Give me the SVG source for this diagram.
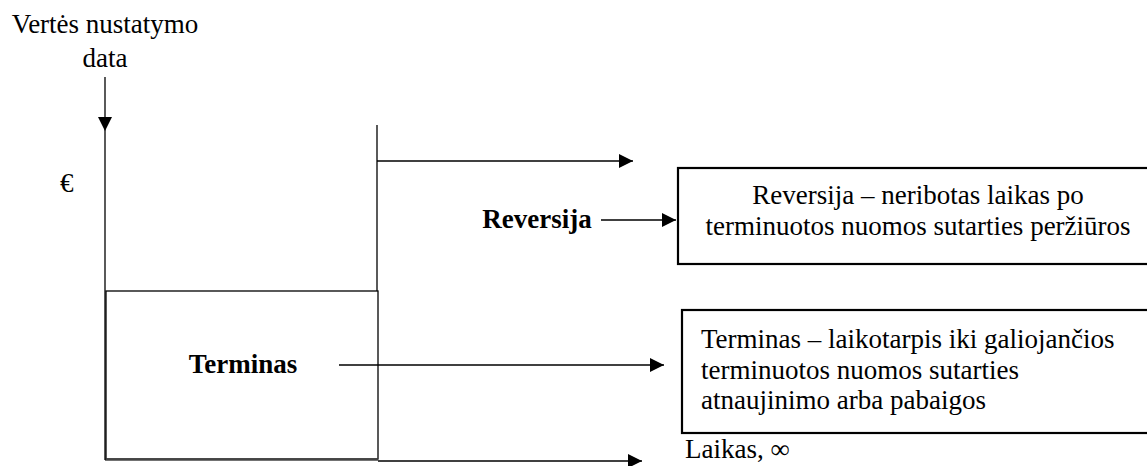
<svg xmlns="http://www.w3.org/2000/svg" width="1147" height="466" viewBox="0 0 1147 466">
<style>
.t{font-family:'Liberation Serif',Tinos,'Times New Roman',Times,'DejaVu Serif',serif;font-size:27px;fill:#000}
.b{font-weight:bold}
.ln{stroke:#000;stroke-width:1.3;fill:none}
.box{stroke:#000;stroke-width:2.2;fill:#fff}
</style>
<defs>
<marker id="ah" markerWidth="14" markerHeight="14" refX="14" refY="7" orient="auto" markerUnits="userSpaceOnUse">
<path d="M0,0 L14,7 L0,14 Z" fill="#000"/>
</marker>
</defs>
<g font-family="Liberation Serif, Times New Roman, DejaVu Serif, serif" font-size="27">
<g id="label-date">
<text class="t" x="105" y="33" text-anchor="middle">Vertės nustatymo</text>
<text class="t" x="105" y="67" text-anchor="middle">data</text>
</g>
<g id="label-euro"><text class="t" x="60" y="192">€</text></g>
<g id="terminas-area">
<rect x="106" y="291" width="272" height="168" class="ln"/>
<line x1="105" y1="459.5" x2="378" y2="459.5" stroke="#444" stroke-width="2.5"/>
<text class="t b" x="243" y="373" text-anchor="middle">Terminas</text>
</g>
<g id="label-reversija"><text class="t b" x="537" y="228" text-anchor="middle">Reversija</text></g>
<g id="box-reversija">
<rect x="678" y="168" width="490" height="96" class="box"/>
<text class="t" x="918" y="204" text-anchor="middle">Reversija – neribotas laikas po</text>
<text class="t" x="918" y="235" text-anchor="middle">terminuotos nuomos sutarties peržiūros</text>
</g>
<g id="box-terminas">
<rect x="682" y="310" width="490" height="123" class="box"/>
<text class="t" x="701" y="348">Terminas – laikotarpis iki galiojančios</text>
<text class="t" x="701" y="379">terminuotos nuomos sutarties</text>
<text class="t" x="701" y="409">atnaujinimo arba pabaigos</text>
</g>
<g id="label-laikas"><text class="t" x="685" y="458">Laikas, ∞</text></g>
</g>
<g id="connectors">
<line x1="105" y1="77" x2="105" y2="131" class="ln" marker-end="url(#ah)"/>
<line x1="105" y1="131" x2="105" y2="460" class="ln"/>
<line x1="377" y1="125" x2="377" y2="291" class="ln"/>
<line x1="377" y1="161" x2="633" y2="161" class="ln" marker-end="url(#ah)"/>
<line x1="601" y1="220" x2="676" y2="220" class="ln" marker-end="url(#ah)"/>
<line x1="339" y1="365" x2="664" y2="365" class="ln" marker-end="url(#ah)"/>
<line x1="378" y1="461" x2="642" y2="461" class="ln" marker-end="url(#ah)"/>
</g>
</svg>
